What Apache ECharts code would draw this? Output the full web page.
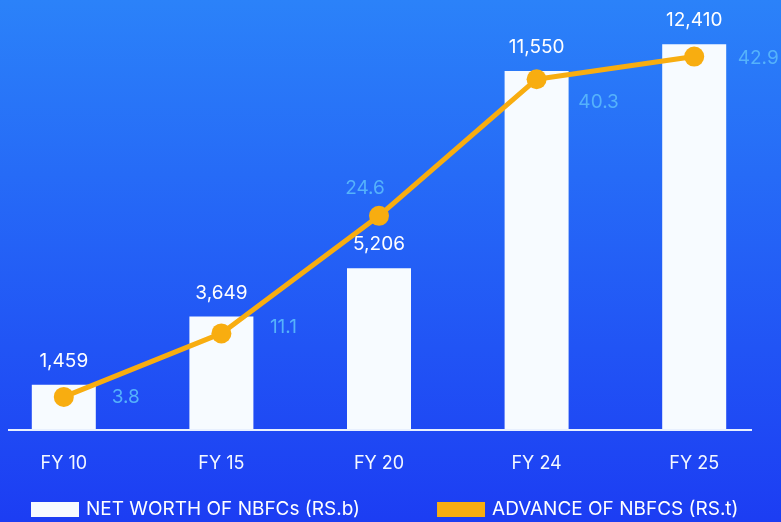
<!DOCTYPE html>
<html>
<head>
<meta charset="utf-8">
<script src="https://cdn.jsdelivr.net/npm/echarts@6/dist/echarts.min.js"></script>
<style>
  html, body { margin: 0; padding: 0; }
  #main { width: 781px; height: 522px; }
</style>
</head>
<body>
<div id="main"></div>
<script>
var categories = ['FY 10', 'FY 15', 'FY 20', 'FY 24', 'FY 25'];
var netWorth = [1459, 3649, 5206, 11550, 12410];
var advances = [3.8, 11.1, 24.6, 40.3, 42.9];
// where each advance label sits relative to its point
var advLabelOffsets = [[62, 0], [62, -6], [-14, -28], [62, 23], [64, 2]];

var chart = echarts.init(document.getElementById('main'));

var lineData = advances.map(function (v, i) {
    return {
        value: v,
        label: { offset: advLabelOffsets[i] }
    };
});

var option = {
    animation: false,
    backgroundColor: new echarts.graphic.LinearGradient(0, 0, 0, 1, [
        { offset: 0, color: '#2b82f9' },
        { offset: 1, color: '#1c3df3' }
    ]),
    textStyle: { fontFamily: 'Inter' },
    grid: {
        left: -15,
        right: 8,
        top: 0,
        bottom: 92,
        outerBoundsMode: 'none'
    },
    legend: {
        left: 26,
        top: 495,
        itemWidth: 48,
        itemHeight: 15,
        itemGap: 77,
        icon: 'rect',
        textStyle: {
            color: '#ffffff',
            fontSize: 19,
            padding: [0, 0, 0, 2]
        },
        data: [
            { name: 'NET WORTH OF NBFCs (RS.b)', itemStyle: { color: '#f7fbff' } },
            { name: 'ADVANCE OF NBFCS (RS.t)', itemStyle: { color: '#f8ad10' } }
        ]
    },
    xAxis: {
        type: 'category',
        data: categories,
        axisLine: { show: false },
        axisTick: { show: false },
        axisLabel: {
            color: '#f4f8ff',
            fontSize: 18,
            margin: 25
        }
    },
    yAxis: [{
        type: 'value',
        min: 0,
        max: 13830,
        show: false
    }, {
        type: 'value',
        min: 0,
        max: 49.4,
        show: false
    }],
    graphic: [{
        type: 'line',
        shape: { x1: 8, y1: 430, x2: 752, y2: 430 },
        style: { stroke: '#e8f0ff', lineWidth: 2 },
        z: 5
    }],
    series: [{
        name: 'NET WORTH OF NBFCs (RS.b)',
        type: 'bar',
        data: netWorth,
        barWidth: 64,
        itemStyle: { color: '#f7fbff' },
        label: {
            show: true,
            position: 'top',
            distance: 14,
            color: '#ffffff',
            fontSize: 19,
            formatter: function (p) {
                return p.value.toLocaleString('en-US');
            }
        }
    }, {
        name: 'ADVANCE OF NBFCS (RS.t)',
        type: 'line',
        yAxisIndex: 1,
        data: lineData,
        symbol: 'circle',
        symbolSize: 20,
        z: 10,
        itemStyle: { color: '#f8ad10' },
        lineStyle: { color: '#f8ad10', width: 5 },
        label: {
            show: true,
            position: 'inside',
            color: '#55b2fb',
            fontSize: 19
        }
    }]
};

chart.setOption(option);
</script>
</body>
</html>
